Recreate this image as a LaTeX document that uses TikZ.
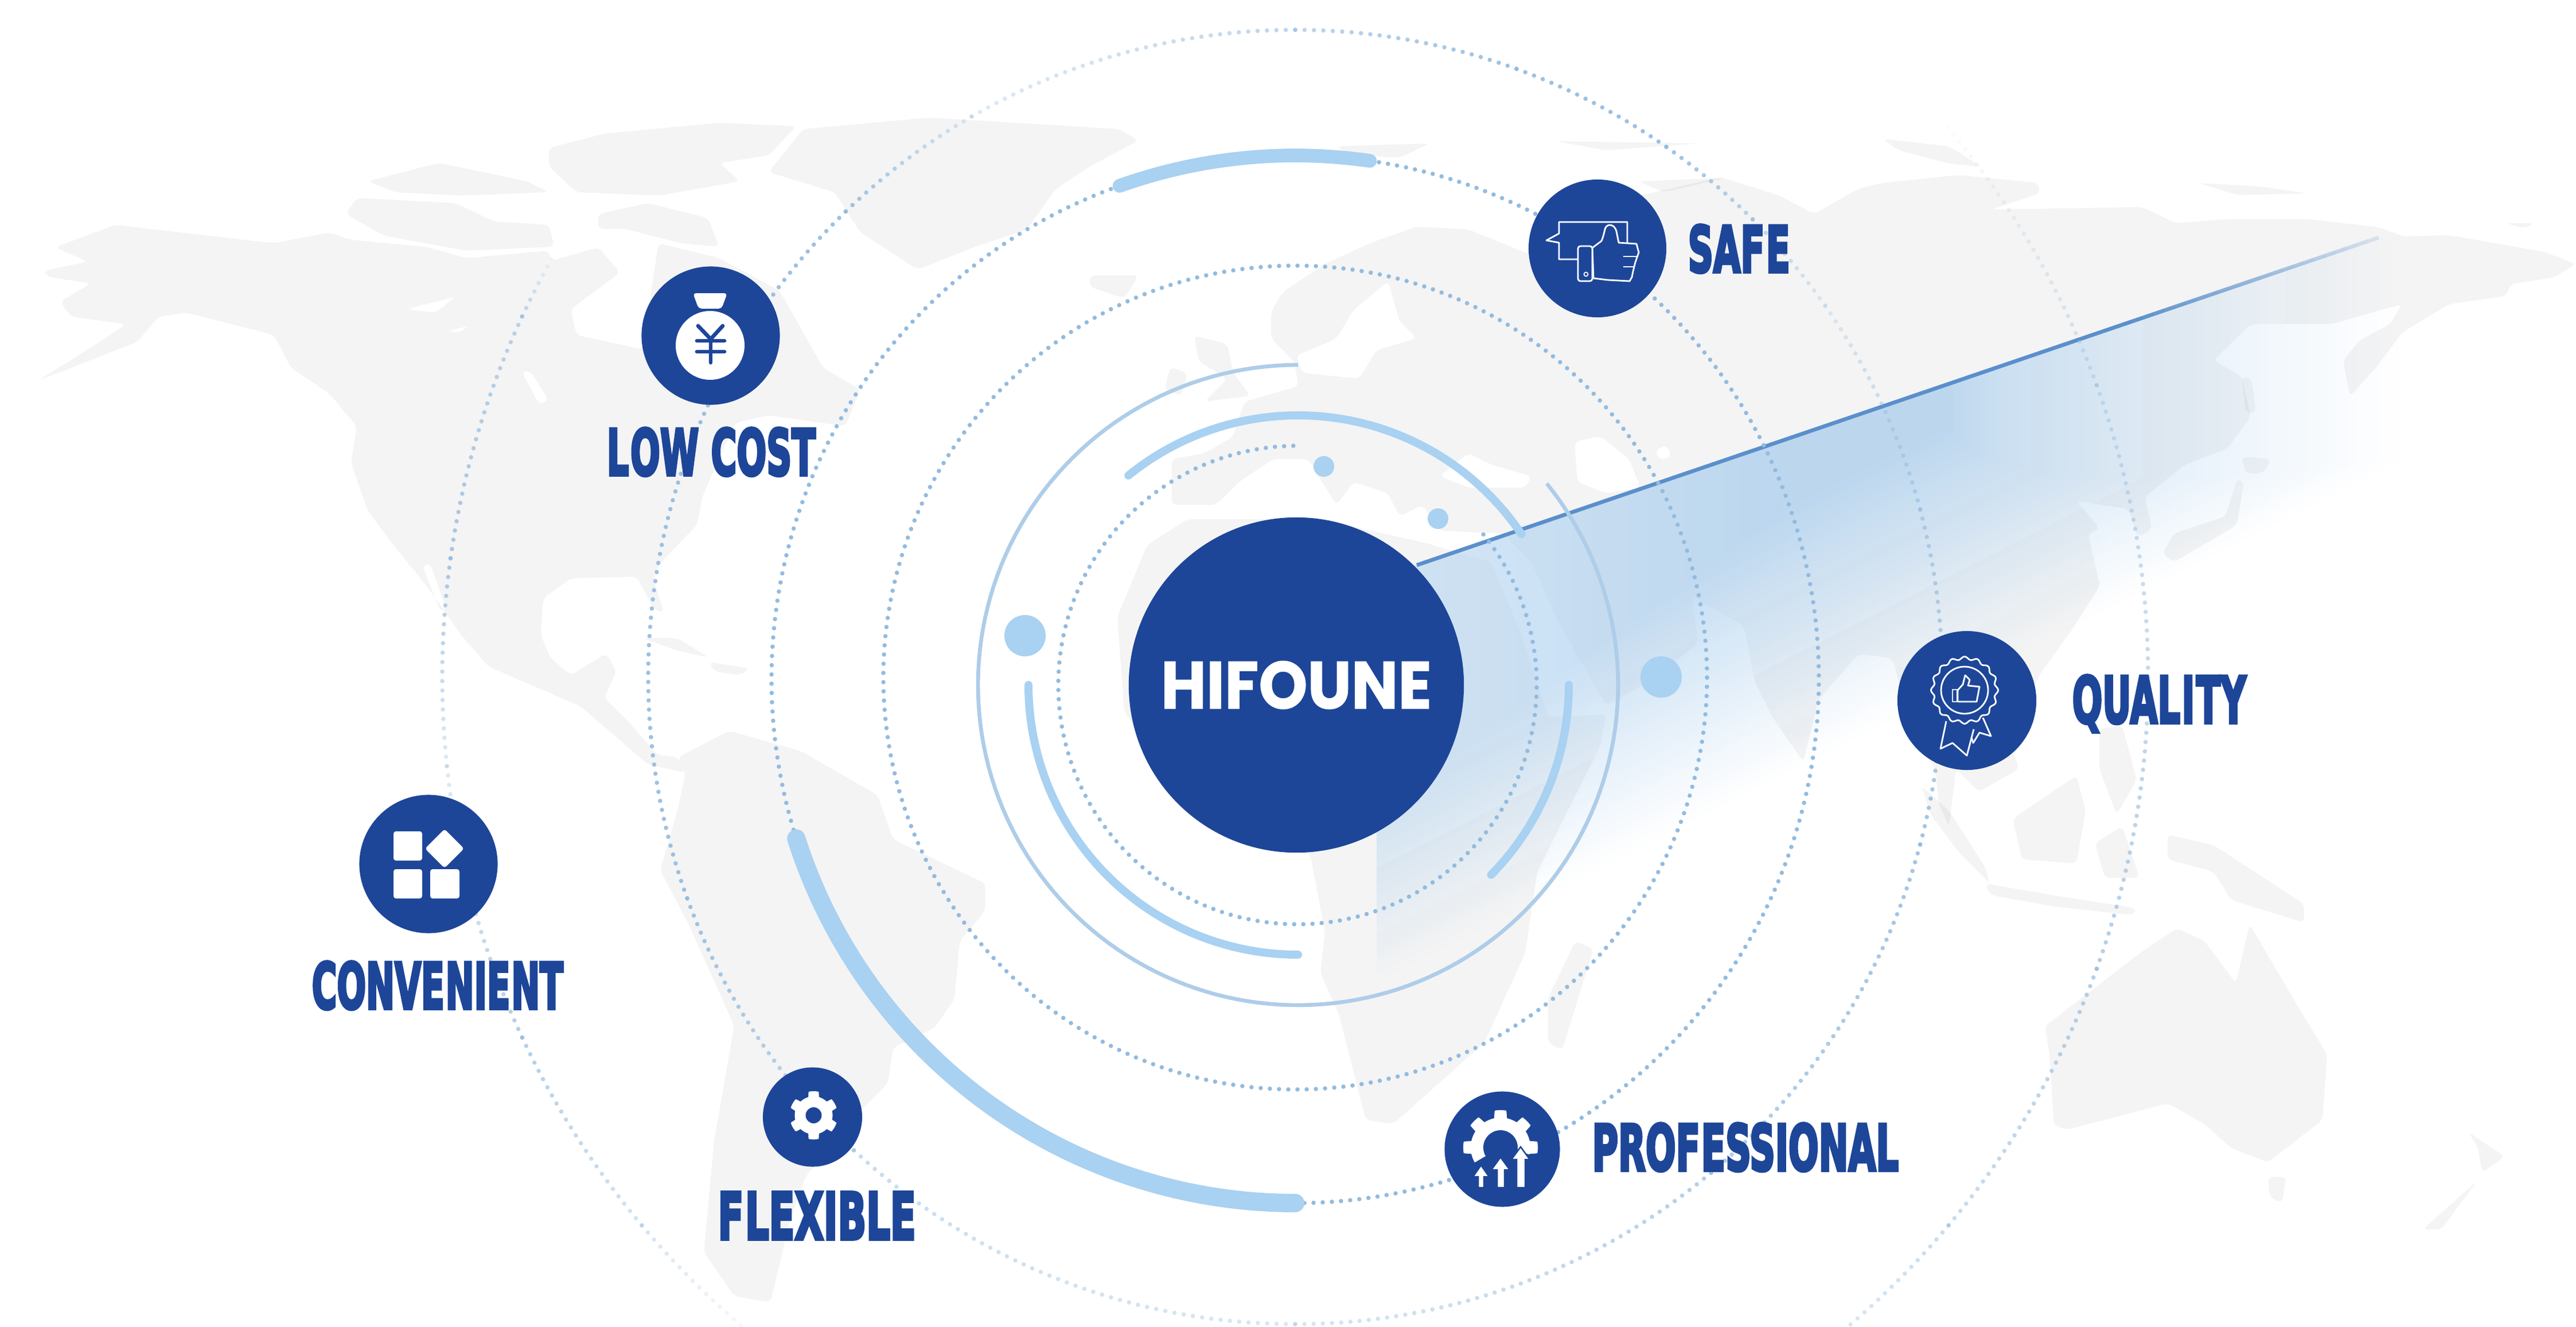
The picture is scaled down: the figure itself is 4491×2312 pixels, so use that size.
\documentclass[tikz,border=0pt]{standalone}
\usepackage{fontspec}
\usepackage{graphicx}
\newfontfamily\labfont[FakeBold=5]{DejaVu Sans Bold}
\newfontfamily\hubfont[FakeBold=1]{Poppins Bold}
\definecolor{navy}{HTML}{1D4699}
\definecolor{thickcol}{HTML}{A9D1F1}
\definecolor{thincol}{HTML}{AECDE9}
\definecolor{ringdot}{HTML}{93BBDF}
\definecolor{beamcol}{HTML}{AFD1EF}
\definecolor{beamline}{HTML}{5A8FCC}
\def\landop{.045}
\tikzset{
  landp/.style={fill=black,fill opacity=\landop,rounded corners=2.5pt,even odd rule},
  iconc/.style={circle,fill=navy,inner sep=0pt,draw=none},
  lab/.style={anchor=base west,inner sep=0pt,text=navy},
  thickarc/.style={draw=thickcol,line cap=round,line join=round,line width=#1},
  iconline/.style={draw=white,line width=.8pt,line join=round},
}
\newcommand\ringarc[6]{\draw[#6] plot[domain=#4:#5,samples=160] ({#1+#3*cos(\x)},{#2-#3*sin(\x)});}
\newcommand\dotarc[7]{%
  \pgfmathsetmacro\arcn{int(abs(#5-#4)*3.14159/180*#3/16)}%
  \foreach \dotk in {0,...,\arcn}{%
    \pgfmathsetmacro\arcfr{\dotk/max(\arcn,1)}%
    \pgfmathsetmacro\arcang{#4+(#5-#4)*\arcfr}%
    \pgfmathsetmacro\arcop{#6+(#7-#6)*\arcfr}%
    \fill[ringdot,opacity=\arcop] ({#1+#3*cos(\arcang)},{#2-#3*sin(\arcang)}) circle[radius=3.8];
  }}
\newcommand\gearfill[4]{% R r teeth rot
  \fill[white] plot[domain=0:360,samples=361] ({(#2+(#1-#2)*min(1,max(0,2.2*cos(#3*(\x-#4))+0.3)))*cos(\x)},{(#2+(#1-#2)*min(1,max(0,2.2*cos(#3*(\x-#4))+0.3)))*sin(\x)})--cycle;}
\newcommand\landall{%
% North America
\path[landp] (77,472)--(153,456)--(96,431)--(201,392)--(478,424)--(574,405)--(612,418)--(746,431)--(813,450)--(957,437)--(960,455)--(1043,431)--(1081,475)--(995,539)--(1005,584)--(1120,609)--(1148,424)--(1254,450)--(1359,507)--(1435,641)--(1500,679)--(1474,743)--(1340,724)--(1282,737)--(1225,864)--(1215,915)--(1148,985)--(1139,1011)--(1158,1068)--(1140,1062)--(1110,1005)--(995,1008)--(947,1043)--(943,1107)--(959,1146)--(995,1177)--(1057,1139)--(1075,1170)--(1053,1216)--(1093,1255)--(1146,1316)--(1182,1320)--(1195,1347)--(1129,1332)--(1075,1285)--(1012,1231)--(959,1208)--(852,1162)--(804,1107)--(746,1024)--(689,954)--(641,890)--(612,807)--(622,743)--(574,686)--(507,641)--(478,584)--(325,545)--(277,552)--(239,596)--(124,641)--(67,663)--(163,603)--(220,565)--(124,552)--(105,526)--(158,494)--(81,482)--cycle
 (736,985)--(750,982)--(778,1062)--(768,1066)--cycle
 (909,647)--(925,647)--(957,698)--(940,705)--cycle
 (708,539)--(794,517)--(760,545)--cycle
 (780,577)--(818,568)--(800,580)--cycle;
% Arctic islands and Greenland
\path[landp] (1043,373)--(1129,354)--(1234,380)--(1254,430)--(1187,424)--(1091,399)--(1043,399)--cycle;
\path[landp] (603,373)--(622,345)--(794,354)--(861,386)--(957,392)--(966,430)--(813,437)--(670,411)--cycle;
\path[landp] (689,335)--(641,316)--(765,284)--(919,316)--(957,335)--(804,341)--cycle;
\path[landp] (957,258)--(1053,233)--(1254,214)--(1388,220)--(1340,271)--(1254,284)--(1290,316)--(1148,341)--(1005,335)--(957,290)--cycle;
\path[landp] (1400,225)--(1620,205)--(1950,225)--(1985,245)--(1900,290)--(1840,330)--(1790,400)--(1700,430)--(1600,470)--(1500,405)--(1455,335)--(1340,300)--cycle;
\path[landp] (1900,480)--(1985,480)--(1960,520)--(1900,500)--cycle;
% South America and Caribbean
\path[landp] (1182,1320)--(1271,1274)--(1396,1309)--(1530,1386)--(1557,1463)--(1718,1540)--(1718,1587)--(1673,1641)--(1664,1741)--(1629,1792)--(1557,1826)--(1548,1888)--(1486,1950)--(1405,2050)--(1379,2120)--(1343,2270)--(1280,2259)--(1227,2182)--(1245,1989)--(1280,1788)--(1200,1610)--(1151,1517)--(1182,1409)--(1195,1347)--cycle;
\path[landp] (1120,1112)--(1180,1112)--(1236,1146)--(1180,1134)--cycle;
\path[landp] (1236,1154)--(1307,1165)--(1290,1177)--(1245,1170)--cycle;
% Eurasia
\path[landp] (2043,880)--(2043,800)--(2100,790)--(2149,762)--(2170,700)--(2264,673)--(2256,630)--(2216,590)--(2216,545)--(2235,510)--(2310,460)--(2388,424)--(2470,395)--(2560,400)--(2666,443)--(2700,400)--(2857,341)--(3000,309)--(3100,340)--(3163,373)--(3240,329)--(3282,319)--(3414,305)--(3554,319)--(3556,337)--(3472,365)--(3735,361)--(3793,389)--(3883,382)--(4023,382)--(4147,396)--(4190,412)--(4270,410)--(4435,439)--(4491,460)--(4451,484)--(4377,495)--(4369,516)--(4270,530)--(4188,579)--(4147,635)--(4097,691)--(4085,628)--(4114,593)--(4167,565)--(4188,530)--(4064,565)--(3924,565)--(3859,628)--(3908,656)--(3924,726)--(3883,782)--(3809,810)--(3739,866)--(3752,922)--(3727,936)--(3710,887)--(3620,873)--(3661,922)--(3640,930)--(3661,1021)--(3612,1098)--(3560,1170)--(3500,1280)--(3520,1340)--(3450,1380)--(3410,1340)--(3398,1441)--(3380,1400)--(3374,1342)--(3330,1260)--(3299,1147)--(3240,1140)--(3170,1220)--(3144,1328)--(3090,1250)--(3060,1190)--(3040,1090)--(2950,1040)--(2960,1120)--(2890,1180)--(2800,1230)--(2720,1090)--(2670,980)--(2620,930)--(2510,925)--(2480,880)--(2440,900)--(2420,860)--(2360,840)--(2330,880)--(2280,800)--(2220,800)--(2160,840)--(2120,880)--cycle
 (2420,490)--(2440,560)--(2470,590)--(2400,610)--(2370,660)--(2270,650)--(2260,620)--(2330,590)--(2360,540)--cycle
 (2510,830)--(2560,790)--(2600,810)--(2670,830)--(2660,850)--(2560,850)--cycle
 (2745,770)--(2790,760)--(2840,800)--(2860,850)--(2800,860)--(2750,840)--cycle
 (2885,785)--(2905,775)--(2914,795)--(2895,803)--cycle;
\path[landp] (2082,585)--(2140,600)--(2150,650)--(2180,690)--(2100,700)--(2140,660)--(2090,630)--cycle;
\path[landp] (2040,640)--(2070,650)--(2060,690)--(2030,680)--cycle;
\path[landp] (2330,255)--(2493,250)--(2440,275)--(2350,270)--cycle;
\path[landp] (2713,246)--(2962,250)--(2800,262)--cycle;
\path[landp] (2857,316)--(3010,310)--(2900,335)--cycle;
\path[landp] (3282,242)--(3398,255)--(3455,291)--(3398,285)--(3310,262)--cycle;
\path[landp] (3834,319)--(3940,325)--(4023,337)--(3900,340)--cycle;
\path[landp] (4369,389)--(4418,389)--(4400,398)--cycle;
% Japan and Sakhalin
\path[landp] (3908,656)--(3925,660)--(3933,719)--(3915,720)--cycle;
\path[landp] (3908,796)--(3960,800)--(3945,825)--(3915,825)--cycle;
\path[landp] (3900,835)--(3912,840)--(3900,915)--(3790,980)--(3770,965)--(3790,930)--(3880,900)--cycle;
% Africa and Madagascar
\path[landp] (2070,905)--(2300,905)--(2480,945)--(2600,980)--(2650,1100)--(2700,1250)--(2800,1245)--(2790,1300)--(2680,1520)--(2659,1661)--(2588,1817)--(2540,1860)--(2429,1959)--(2381,1952)--(2334,1767)--(2302,1696)--(2310,1625)--(2286,1498)--(2200,1300)--(2000,1300)--(1960,1240)--(1948,1075)--(2000,950)--cycle;
\path[landp] (2699,1817)--(2723,1831)--(2778,1654)--(2747,1640)--(2699,1739)--cycle;
% South-east Asia
\path[landp] (3350,1370)--(3398,1413)--(3461,1512)--(3469,1540)--(3414,1484)--(3366,1420)--cycle;
\path[landp] (3461,1540)--(3589,1562)--(3724,1583)--(3720,1595)--(3580,1580)--(3470,1560)--cycle;
\path[landp] (3509,1427)--(3620,1352)--(3636,1413)--(3620,1505)--(3525,1498)--cycle;
\path[landp] (3652,1470)--(3700,1440)--(3730,1530)--(3670,1530)--cycle;
\path[landp] (3660,1270)--(3700,1265)--(3725,1360)--(3690,1420)--(3660,1340)--cycle;
\path[landp] (3779,1455)--(3859,1473)--(4017,1576)--(4017,1608)--(3890,1569)--(3859,1519)--(3779,1498)--cycle;
% Australia, Tasmania, New Zealand
\path[landp] (3565,1789)--(3731,1661)--(3795,1618)--(3843,1640)--(3898,1714)--(3922,1611)--(4001,1746)--(4057,1838)--(4049,1952)--(3954,2026)--(3890,2001)--(3843,1959)--(3779,1923)--(3604,1969)--(3581,1962)--(3573,1838)--cycle;
\path[landp] (3954,2051)--(3986,2051)--(3978,2097)--(3957,2087)--cycle;
\path[landp] (4303,1973)--(4367,2016)--(4327,2044)--(4320,2000)--cycle;
\path[landp] (4224,2143)--(4319,2058)--(4256,2143)--cycle;
}
\begin{document}
\begin{tikzpicture}[x=0.01cm,y=-0.01cm]
\useasboundingbox (0,0) rectangle (4491,2312);
\fill[white] (0,0) rectangle (4491,2312);
%% --- beam (nested opaque layers, under the map) ---
\begin{scope}
\clip (2400,1009)--(4491,297)--(4491,2100)--(2400,2100)--cycle;
\foreach \k in {1,...,64}{
  \pgfmathsetmacro\ba{\k/80}
  \pgfmathsetmacro\bpc{\ba*100}
  \pgfmathsetmacro\bT{2620-520*\ba}
  \pgfmathsetmacro\bR{3400+800*(1.001-\ba/0.8)^1.5}
  \pgfmathsetmacro\bL{\ba<0.55 ? 2300 : 2450+(\ba-0.55)*2600}
  \pgfmathsetmacro\yL{(\bT-0.454*\bL)/0.891}
  \pgfmathsetmacro\yR{(\bT-0.454*\bR)/0.891}
  \fill[beamcol!\bpc!white] (\bL,250)--(\bR,250)--(\bR,\yR)--(\bL,\yL)--cycle;
}
\end{scope}
%% --- world map: land shows less through the stronger part of the beam ---
\begin{scope}
\def\landop{.045}
\pgfseteorule
\clip (0,0) rectangle (4491,2312) (2400,1009)--(3986,469)--(3986,822)--(2400,1630)--cycle;
\landall
\end{scope}
\begin{scope}
\def\landop{.034}
\pgfseteorule
\clip (2400,1009)--(3986,469)--(3986,822)--(2400,1630)--cycle (2400,1009)--(3737,554)--(3737,832)--(2400,1513)--cycle;
\landall
\end{scope}
\begin{scope}
\def\landop{.024}
\pgfseteorule
\clip (2400,1009)--(3737,554)--(3737,832)--(2400,1513)--cycle (2400,1009)--(3540,621)--(3540,816)--(2400,1396)--cycle;
\landall
\end{scope}
\begin{scope}
\def\landop{.014}
\clip (2400,1009)--(3540,621)--(3540,816)--(2400,1396)--cycle;
\landall
\end{scope}
%% --- beam edge ---
\coordinate (beamA) at (2470,985);
\coordinate (beamB) at (3700,566);
\draw[beamline,line width=1.9pt] (beamA)--(beamB);
\foreach \k in {0,...,23}{
  \pgfmathsetmacro\sa{\k/24}
  \pgfmathsetmacro\sb{(\k+1)/24}
  \pgfmathsetmacro\so{1-0.85*\sa}
  \draw[beamline,line width=1.9pt,opacity=\so] (3700+447*\sa,566-152*\sa)--(3700+447*\sb,566-152*\sb);
}
%% --- rings ---
\dotarc{2262}{1194}{417}{91}{399}{1}{1}
\dotarc{2258}{1181}{718}{0}{360}{1}{1}
\dotarc{2258}{1184}{913}{81.8}{-90}{1}{1}
\dotarc{2258}{1184}{913}{109.6}{197.7}{1}{1}
% R4
\dotarc{2258}{1180}{1128}{134}{200}{.9}{.9}
\dotarc{2258}{1180}{1128}{200}{227}{.9}{.5}
\dotarc{2258}{1180}{1128}{227}{270}{.5}{.35}
\dotarc{2258}{1180}{1128}{270}{310}{.35}{.7}
\dotarc{2258}{1180}{1128}{310}{345}{.7}{.85}
\dotarc{2258}{1180}{1128}{345}{375}{.85}{.6}
\dotarc{2258}{1180}{1128}{375}{395}{.6}{.25}
\dotarc{2258}{1180}{1128}{395}{405}{.25}{.6}
\dotarc{2258}{1180}{1128}{405}{415}{.6}{.9}
\dotarc{2258}{1180}{1128}{415}{430}{.9}{.9}
\dotarc{2258}{1180}{1128}{430}{450}{.9}{.6}
\dotarc{2258}{1180}{1128}{450}{480}{.6}{.3}
\dotarc{2258}{1180}{1128}{120}{134}{.3}{.9}
% R5
\dotarc{2258}{1180}{1487}{150}{155}{0}{.6}
\dotarc{2258}{1180}{1487}{155}{172}{.6}{.8}
\dotarc{2258}{1180}{1487}{172}{186}{.8}{.3}
\dotarc{2258}{1180}{1487}{186}{205}{.3}{.7}
\dotarc{2258}{1180}{1487}{205}{220}{.7}{.4}
\dotarc{2258}{1180}{1487}{220}{232}{.4}{0}
\dotarc{2258}{1180}{1487}{-70}{-40}{0}{.5}
\dotarc{2258}{1180}{1487}{-40}{-20}{.5}{.7}
\dotarc{2258}{1180}{1487}{-20}{20}{.7}{.4}
\dotarc{2258}{1180}{1487}{20}{42}{.4}{0}
% thin ring
\ringarc{2263}{1194}{558}{90}{399}{draw=thincol,line width=1.9pt}
% thick arcs
\ringarc{2263}{1194}{470}{129}{34}{thickarc=4pt}
\ringarc{2263}{1194}{470}{180}{270}{thickarc=4pt}
\ringarc{2263}{1194}{472}{0}{-44.5}{thickarc=4pt}
\ringarc{2258}{1184}{913}{109.6}{81.8}{thickarc=6.8pt}
\ringarc{2258}{1184}{913}{197.7}{270}{thickarc=9.1pt}
% small dots
\fill[thickcol] (2308,813) circle[radius=18];
\fill[thickcol] (2507,904) circle[radius=18];
\fill[thickcol] (1787,1108) circle[radius=36];
\fill[thickcol] (2896,1180) circle[radius=36];
%% --- hub ---
\node[iconc,minimum size=5.84cm] (hub) at (2260,1194) {\resizebox{4.72cm}{0.83cm}{\textcolor{white}{\hubfont HIFOUNE}}};
%% --- SAFE ---
\node[iconc,minimum size=2.4cm] (safe) at (2785,433) {};
\begin{scope}[shift={(2785,433)}]
\draw[iconline] (-34,19)--(-67,19)--(-67,-10)--(-89,-14)--(-67,-26)--(-67,-46)--(52,-46)--(52,-10);
\draw[iconline,fill=navy] (-9,-1)--(7,-13) .. controls (12,-25) and (12,-32) .. (14,-36) .. controls (18,-44) and (30,-42) .. (33,-30)--(37,-10)--(68,-8)--(72,7)--(66,24)--(62,40)--(60,50)--(56,57)--(18,55)--(-7,52)--cycle;
\draw[iconline,fill=navy,rounded corners=1.2pt] (-34,-4) rectangle (-9,57);
\draw[iconline,line width=.5pt] (-20,45) circle[radius=3.5];
\draw[iconline] (45,14)--(70,14);
\draw[iconline] (45,32)--(64,32);
\end{scope}
\node[lab] (safetxt) at (2942,474) {\resizebox{1.78cm}{0.82cm}{\labfont SAF\kern.04em E}};
%% --- LOW COST ---
\node[iconc,minimum size=2.41cm] (lowcost) at (1239,585) {};
\begin{scope}[shift={(1239,585)}]
\fill[white] (-1,17) circle[radius=60];
\fill[white,rounded corners=1.5pt] (-31,-74)--(29,-74)--(19,-47)--(-21,-47)--cycle;
\draw[navy,line width=1.9pt,line cap=round] (-22,-17)--(0,6)--(21,-17);
\draw[navy,line width=1.9pt,line cap=round] (0,6)--(0,47);
\draw[navy,line width=1.9pt,line cap=round] (-24,9)--(24,9);
\draw[navy,line width=1.9pt,line cap=round] (-24,28)--(24,28);
\end{scope}
\node[lab] (lowcosttxt) at (1057,828) {\resizebox{3.64cm}{0.82cm}{\labfont L\kern.04em OW COST}};
%% --- QUALITY ---
\node[iconc,minimum size=2.42cm] (quality) at (3429,1221) {};
\begin{scope}[shift={(3429,1221)}]
\draw[iconline] (-36,36)--(-46,84)--(-25,74)--(0,96)--(12,50);
\draw[iconline] (8,64)--(11,74)--(22,56)--(42,62)--(28,30);
\draw[iconline,fill=navy] plot[domain=0:360,samples=241] ({-4+(56+2.5*cos(16*\x))*cos(\x)},{-18+(56+2.5*cos(16*\x))*sin(\x)})--cycle;
\draw[iconline] (-4,-18) circle[radius=41];
\draw[iconline] (-25,-19) rectangle (-17,2);
\draw[iconline] (-16,-18)--(-7,-28)--(-3,-44)--(5,-36)--(2,-26)--(22,-24)--(17,2)--(-16,2)--cycle;
\end{scope}
\node[lab] (qualitytxt) at (3612,1260) {\resizebox{3.03cm}{0.83cm}{\labfont QUAL\kern.04em I\kern.04em TY}};
%% --- CONVENIENT ---
\node[iconc,minimum size=2.41cm] (convenient) at (747,1506) {};
\begin{scope}[shift={(747,1506)}]
\fill[white,rounded corners=1.2pt] (-61,-57) rectangle (-11,-6);
\fill[white,rounded corners=1.2pt] (-61,9) rectangle (-11,60);
\fill[white,rounded corners=1.2pt] (3,9) rectangle (54,60);
\fill[white,rounded corners=1.2pt] (28,-61)--(62,-27)--(28,7)--(-6,-27)--cycle;
\end{scope}
\node[lab] (convenienttxt) at (543,1758) {\resizebox{4.38cm}{0.82cm}{\labfont CONVE\kern.03em NIE\kern.03em NT}};
%% --- FLEXIBLE ---
\node[iconc,minimum size=1.73cm] (flexible) at (1416.5,1947) {};
\begin{scope}[shift={(1418.5,1944)}]
\gearfill{42}{33}{6}{90}
\fill[navy] (0,0) circle[radius=14];
\end{scope}
\node[lab] (flexibletxt) at (1251,2160) {\resizebox{3.45cm}{0.82cm}{\labfont F\kern.04em LEXIBLE}};
%% --- PROFESSIONAL ---
\node[iconc,minimum size=2.01cm] (professional) at (2619,2003) {};
\begin{scope}[shift={(2616,2000)}]
\gearfill{65}{52}{8}{90}
\fill[navy] (0,0) circle[radius=30];
\fill[navy] (0,0)--(-70,41)--(-70,68)--(70,68)--(70,17)--cycle;
\end{scope}
\begin{scope}[shift={(2619,2003)}]
\draw[navy,fill=white,line width=.7pt,line join=miter] (-42,67)--(-42,48)--(-51,48)--(-37,28)--(-23,48)--(-32,48)--(-32,67)--cycle;
\draw[navy,fill=white,line width=.7pt,line join=miter] (-9,67)--(-9,36)--(-19,36)--(-3,14)--(13,36)--(4,36)--(4,67)--cycle;
\draw[navy,fill=white,line width=.7pt,line join=miter] (25,67)--(25,18)--(16,18)--(32,-4)--(48,18)--(40,18)--(40,67)--cycle;
\end{scope}
\node[lab] (professionaltxt) at (2775,2040) {\resizebox{5.34cm}{0.82cm}{\labfont PROF\kern.03em ESSIONAL}};
\end{tikzpicture}
\end{document}
